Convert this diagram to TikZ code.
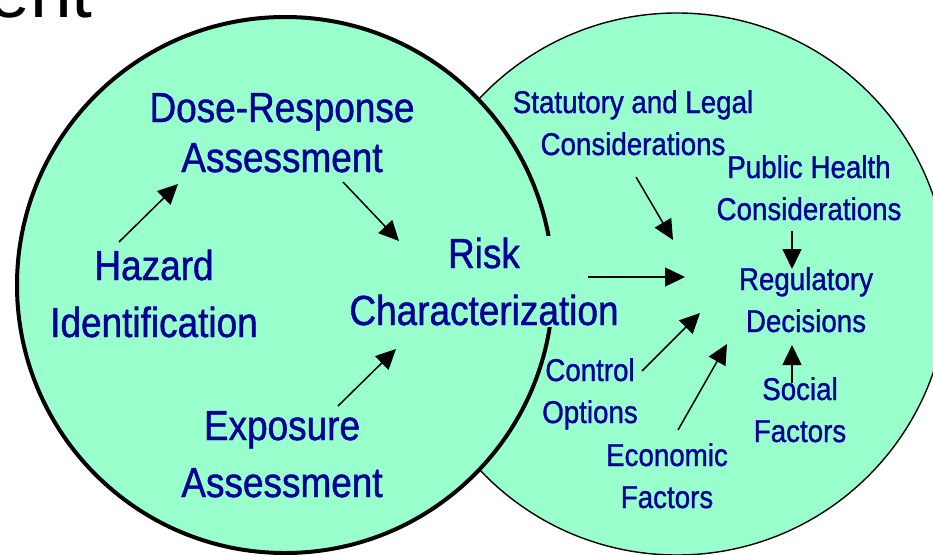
\documentclass[tikz,border=0pt]{standalone}
\usepackage{fontspec}
\usetikzlibrary{arrows.meta}
\newfontfamily\labelfont{Liberation Sans}[FakeStretch=0.88,FakeBold=1]
\newfontfamily\headfont{Liberation Sans}
\definecolor{mint}{HTML}{99FFCC}
\definecolor{labelblue}{HTML}{000099}

\begin{document}
\begin{tikzpicture}[x=1pt,y=-1pt,
		big/.style={text=labelblue,align=center,inner sep=2pt,font=\labelfont\fontsize{42}{57}\selectfont},
		small/.style={text=labelblue,align=center,inner sep=2pt,font=\labelfont\fontsize{31.5}{42}\selectfont},
		arrow/.style={line width=1.5pt,-{Triangle[length=20pt,width=19pt]}}]
		\useasboundingbox (0,0) rectangle (933,554);
		% circles: decisions behind, assessment on top
		\draw[line width=1.4pt,fill=mint] (677,284) circle[radius=271pt];
		\draw[line width=4pt,fill=mint] (285,285) circle[radius=268pt];
		\node[anchor=base west,font=\headfont\fontsize{75}{75}\selectfont] (head) at (-15,17) {ent};

		% assessment steps (placed by the baseline of the last line)
		\node[big,font=\labelfont\fontsize{42}{50}\selectfont,anchor=base] (dra) at (282,172) {Dose-Response\\Assessment};
		\node[big,anchor=base] (haz) at (154,337) {Hazard\\Identification};
		\node[big,anchor=base] (expo) at (282,497) {Exposure\\Assessment};
		\node[big,anchor=base,fill=mint] (risk) at (484,325) {Risk\\Characterization};

		% management inputs
		\node[small,anchor=base] (stat) at (633,155) {Statutory and Legal\\Considerations};
		\node[small,anchor=base] (pub) at (809,220) {Public Health\\Considerations};
		\node[small,anchor=base] (reg) at (806,332) {Regulatory\\Decisions};
		\node[small,anchor=base] (ctrl) at (590,423) {Control\\Options};
		\node[small,anchor=base] (soc) at (800,442) {Social\\Factors};
		\node[small,anchor=base] (econ) at (667,508) {Economic\\Factors};

		% arrow ends
		\coordinate (haz-out) at (119,242);
		\coordinate (dra-in) at (178,184);
		\coordinate (dra-out) at (343,182);
		\coordinate (risk-in1) at (399,241);
		\coordinate (expo-out) at (338,406);
		\coordinate (risk-in2) at (396,349);
		\coordinate (risk-out) at (588,277);
		\coordinate (reg-in1) at (685,277);
		\coordinate (stat-out) at (636,177);
		\coordinate (reg-in2) at (673,240);
		\coordinate (pub-out) at (792,231);
		\coordinate (reg-in3) at (792,269);
		\coordinate (ctrl-out) at (642,371);
		\coordinate (reg-in4) at (700,313);
		\coordinate (econ-out) at (678,430);
		\coordinate (reg-in5) at (727,344);
		\coordinate (soc-out) at (792,383);
		\coordinate (reg-in6) at (792,345);

		\path[arrow]
			(haz-out) edge (dra-in)
			(dra-out) edge (risk-in1)
			(expo-out) edge (risk-in2)
			(risk-out) edge (reg-in1)
			(stat-out) edge (reg-in2)
			(pub-out) edge (reg-in3)
			(ctrl-out) edge (reg-in4)
			(econ-out) edge (reg-in5)
			(soc-out) edge (reg-in6);
\end{tikzpicture}
\end{document}
